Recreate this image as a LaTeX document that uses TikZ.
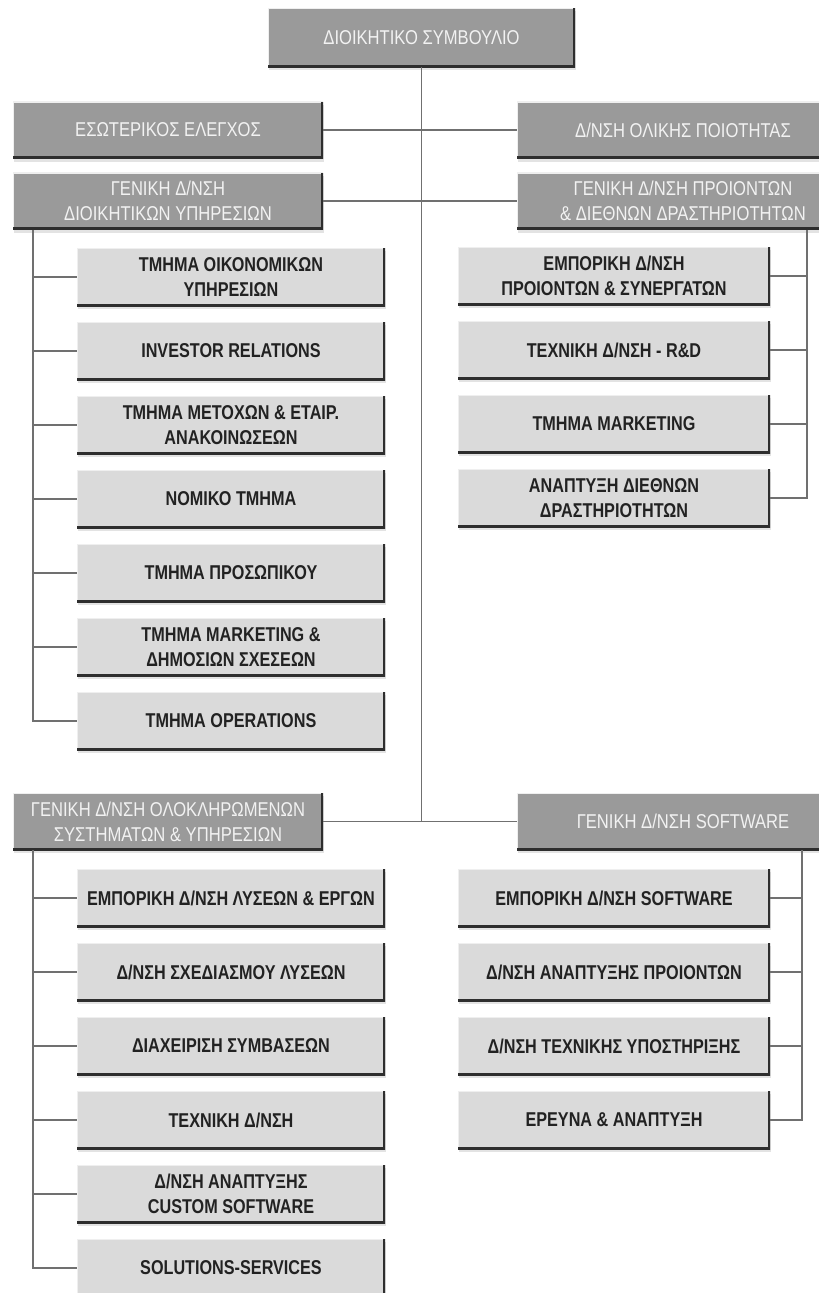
\documentclass[tikz,border=0pt]{standalone}
\usepackage{fontspec}
\setmainfont{Liberation Sans}[FakeStretch=0.83]
\newfontfamily\unitfont{Liberation Sans}[FakeStretch=0.81]
\usetikzlibrary{shadows}
\definecolor{headfill}{HTML}{9A9A9A}
\definecolor{headtext}{HTML}{F2F2F2}
\definecolor{unitfill}{HTML}{DADADA}
\definecolor{unittext}{HTML}{222222}
\definecolor{edgedark}{HTML}{2E2E2E}
\definecolor{edgelight}{HTML}{EFEFEF}
\definecolor{wire}{HTML}{707070}
\begin{document}
\begin{tikzpicture}[x=1pt,y=-1pt,
  bevelbox/.style={rectangle, inner sep=0pt, align=center,
    drop shadow={shadow xshift=1pt, shadow yshift=-3pt, opacity=.22},
    path picture={
      \draw[edgelight, line width=2pt]
        (path picture bounding box.south west) -- (path picture bounding box.north west)
        -- (path picture bounding box.north east);
      \draw[edgedark, line width=5pt]
        (path picture bounding box.south west) -- (path picture bounding box.south east)
        -- (path picture bounding box.north east);
    }},
  head/.style={bevelbox, fill=headfill, text=headtext, minimum height=57pt,
    font=\fontsize{20}{25}\selectfont},
  unit/.style={bevelbox, fill=unitfill, text=unittext, minimum height=58pt,
    font=\unitfont\bfseries\fontsize{20}{25}\selectfont},
  headL/.style={head, minimum width=310pt},
  headR/.style={head, minimum width=332pt},
  unitL/.style={unit, minimum width=308pt},
  unitR/.style={unit, minimum width=312pt},
  wireline/.style={draw=wire, line width=1.5pt}]
\useasboundingbox (0,0) rectangle (819,1293);
\clip (0,0) rectangle (819,1293);
\fill[white] (0,0) rectangle (819,1293);

% board and directorates
\node[head, minimum width=307pt, minimum height=59pt] (board) at (421.5,37.5) {ΔΙΟΙΚΗΤΙΚΟ ΣΥΜΒΟΥΛΙΟ};
\node[headL] (audit) at (168,130) {ΕΣΩΤΕΡΙΚΟΣ ΕΛΕΓΧΟΣ};
\node[headR] (quality) at (683,130) {Δ/ΝΣΗ ΟΛΙΚΗΣ ΠΟΙΟΤΗΤΑΣ};
\node[headL] (admin) at (168,201) {ΓΕΝΙΚΗ Δ/ΝΣΗ\\ΔΙΟΙΚΗΤΙΚΩΝ ΥΠΗΡΕΣΙΩΝ};
\node[headR] (prod) at (683,201) {ΓΕΝΙΚΗ Δ/ΝΣΗ ΠΡΟΙΟΝΤΩΝ\\\& ΔΙΕΘΝΩΝ ΔΡΑΣΤΗΡΙΟΤΗΤΩΝ};
\node[headL] (integ) at (168,821.5) {ΓΕΝΙΚΗ Δ/ΝΣΗ ΟΛΟΚΛΗΡΩΜΕΝΩΝ\\ΣΥΣΤΗΜΑΤΩΝ \& ΥΠΗΡΕΣΙΩΝ};
\node[headR] (soft) at (683,821.5) {ΓΕΝΙΚΗ Δ/ΝΣΗ SOFTWARE};

% administrative services
\node[unitL] (a1) at (231,277) {ΤΜΗΜΑ ΟΙΚΟΝΟΜΙΚΩΝ\\ΥΠΗΡΕΣΙΩΝ};
\node[unitL] (a2) at (231,351) {INVESTOR RELATIONS};
\node[unitL] (a3) at (231,425) {ΤΜΗΜΑ ΜΕΤΟΧΩΝ \& ΕΤΑΙΡ.\\ΑΝΑΚΟΙΝΩΣΕΩΝ};
\node[unitL] (a4) at (231,499) {ΝΟΜΙΚΟ ΤΜΗΜΑ};
\node[unitL] (a5) at (231,573) {ΤΜΗΜΑ ΠΡΟΣΩΠΙΚΟΥ};
\node[unitL] (a6) at (231,647) {ΤΜΗΜΑ MARKETING \&\\ΔΗΜΟΣΙΩΝ ΣΧΕΣΕΩΝ};
\node[unitL] (a7) at (231,721) {ΤΜΗΜΑ OPERATIONS};

% products and international activities
\node[unitR] (p1) at (614,276) {ΕΜΠΟΡΙΚΗ Δ/ΝΣΗ\\ΠΡΟΙΟΝΤΩΝ \& ΣΥΝΕΡΓΑΤΩΝ};
\node[unitR] (p2) at (614,350) {ΤΕΧΝΙΚΗ Δ/ΝΣΗ - R\&D};
\node[unitR] (p3) at (614,424) {ΤΜΗΜΑ MARKETING};
\node[unitR] (p4) at (614,498) {ΑΝΑΠΤΥΞΗ ΔΙΕΘΝΩΝ\\ΔΡΑΣΤΗΡΙΟΤΗΤΩΝ};

% integrated systems and services
\node[unitL] (i1) at (231,898) {ΕΜΠΟΡΙΚΗ Δ/ΝΣΗ ΛΥΣΕΩΝ \& ΕΡΓΩΝ};
\node[unitL] (i2) at (231,972) {Δ/ΝΣΗ ΣΧΕΔΙΑΣΜΟΥ ΛΥΣΕΩΝ};
\node[unitL] (i3) at (231,1046) {ΔΙΑΧΕΙΡΙΣΗ ΣΥΜΒΑΣΕΩΝ};
\node[unitL] (i4) at (231,1120) {ΤΕΧΝΙΚΗ Δ/ΝΣΗ};
\node[unitL] (i5) at (231,1194) {Δ/ΝΣΗ ΑΝΑΠΤΥΞΗΣ\\CUSTOM SOFTWARE};
\node[unitL] (i6) at (231,1268) {SOLUTIONS-SERVICES};

% software
\node[unitR] (s1) at (614,898) {ΕΜΠΟΡΙΚΗ Δ/ΝΣΗ SOFTWARE};
\node[unitR] (s2) at (614,972) {Δ/ΝΣΗ ΑΝΑΠΤΥΞΗΣ ΠΡΟΙΟΝΤΩΝ};
\node[unitR] (s3) at (614,1046) {Δ/ΝΣΗ ΤΕΧΝΙΚΗΣ ΥΠΟΣΤΗΡΙΞΗΣ};
\node[unitR] (s4) at (614,1120) {ΕΡΕΥΝΑ \& ΑΝΑΠΤΥΞΗ};

% branch points
\coordinate (trunkEnd) at (board.south |- integ.east);
\coordinate (tA) at (33,0 |- admin.south);
\coordinate (tB) at (807,0 |- prod.south);
\coordinate (tC) at (33,0 |- integ.south);
\coordinate (tD) at (802,0 |- soft.south);

% main trunk and cross links
\draw[wireline] (board.south) -- (trunkEnd);
\draw[wireline] (audit.east) -- (quality.west);
\draw[wireline] (admin.east) -- (prod.west);
\draw[wireline] (integ.east) -- (soft.west);

% branches
\draw[wireline] (tA) |- (a7.west);
\foreach \n in {a1,a2,a3,a4,a5,a6} \draw[wireline] (tA |- \n.west) -- (\n.west);
\draw[wireline] (tB) |- (p4.east);
\foreach \n in {p1,p2,p3} \draw[wireline] (tB |- \n.east) -- (\n.east);
\draw[wireline] (tC) |- (i6.west);
\foreach \n in {i1,i2,i3,i4,i5} \draw[wireline] (tC |- \n.west) -- (\n.west);
\draw[wireline] (tD) |- (s4.east);
\foreach \n in {s1,s2,s3} \draw[wireline] (tD |- \n.east) -- (\n.east);
\end{tikzpicture}
\end{document}
